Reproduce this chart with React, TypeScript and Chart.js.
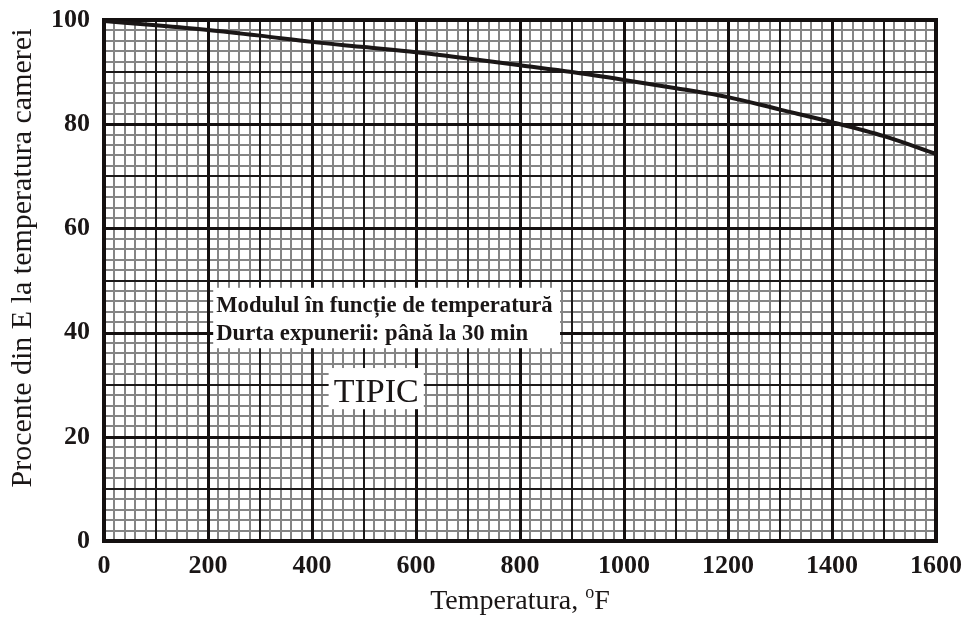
import React, { useEffect, useRef } from "react";
import { Chart, registerables } from "chart.js";

Chart.register(...registerables);

const temperatures = [0, 100, 200, 300, 400, 500, 600, 700, 800, 900, 1000, 1100, 1200, 1300, 1400, 1500, 1600];
const percentE = [99.8, 99.0, 98.1, 97.0, 95.8, 94.8, 93.8, 92.6, 91.3, 90.0, 88.5, 86.9, 85.2, 82.8, 80.4, 77.7, 74.3];

const xTitle = "Temperatura, ";
const xTitleSup = "o";
const xTitleUnit = "F";
const yTitle = "Procente din E la temperatura camerei";
const noteLines = ["Modulul în funcție de temperatură", "Durta expunerii: până la 30 min"];
const tagText = "TIPIC";

const FONT = "'Liberation Serif', 'Times New Roman', serif";

const gridPlugin = {
  id: "paperGrid",
  beforeDatasetsDraw(chart: any) {
    const { ctx, chartArea, scales } = chart;
    const xs = scales.x;
    const ys = scales.y;
    const levels = [
      { w: 2, c: "#858585" },
      { w: 2, c: "#1c1a1a" },
      { w: 3, c: "#141010" },
    ];
    const xLevel = (v: number) => (v % 200 === 0 ? 2 : v % 100 === 0 ? 1 : 0);
    const yLevel = (v: number) => (v % 20 === 0 ? 2 : v % 10 === 0 ? 1 : 0);
    ctx.save();
    for (let lv = 0; lv < 3; lv++) {
      ctx.lineWidth = levels[lv].w;
      ctx.strokeStyle = levels[lv].c;
      ctx.beginPath();
      for (let i = 0; i <= 80; i++) {
        const v = i * 20;
        if (xLevel(v) !== lv) continue;
        let p = Math.round(xs.getPixelForValue(v));
        if (levels[lv].w % 2 === 1) p += 0.5;
        ctx.moveTo(p, chartArea.top);
        ctx.lineTo(p, chartArea.bottom);
      }
      for (let i = 0; i <= 50; i++) {
        const v = i * 2;
        if (yLevel(v) !== lv) continue;
        let p = Math.round(ys.getPixelForValue(v));
        if (levels[lv].w % 2 === 1) p += 0.5;
        ctx.moveTo(chartArea.left, p);
        ctx.lineTo(chartArea.right, p);
      }
      ctx.stroke();
    }
    ctx.lineWidth = 4;
    ctx.strokeStyle = "#141010";
    ctx.strokeRect(chartArea.left, chartArea.top, chartArea.right - chartArea.left, chartArea.bottom - chartArea.top);
    ctx.restore();
  },
  afterDatasetsDraw(chart: any) {
    const { ctx, scales, chartArea } = chart;
    const xs = scales.x;
    const ys = scales.y;
    ctx.save();
    const bx0 = xs.getPixelForValue(210);
    const bx1 = xs.getPixelForValue(877);
    const by0 = ys.getPixelForValue(48.6);
    const by1 = ys.getPixelForValue(37.0);
    ctx.fillStyle = "#ffffff";
    ctx.fillRect(bx0, by0, bx1 - bx0, by1 - by0);
    ctx.fillStyle = "#1a1616";
    ctx.font = `bold 22.7px ${FONT}`;
    ctx.textBaseline = "alphabetic";
    ctx.textAlign = "left";
    ctx.fillText(noteLines[0], bx0 + 3, by0 + 24);
    ctx.fillText(noteLines[1], bx0 + 3, by0 + 52);
    const tx0 = xs.getPixelForValue(432);
    const tx1 = xs.getPixelForValue(615);
    const ty0 = ys.getPixelForValue(33.2);
    const ty1 = ys.getPixelForValue(25.3);
    ctx.fillStyle = "#ffffff";
    ctx.fillRect(tx0, ty0, tx1 - tx0, ty1 - ty0);
    ctx.fillStyle = "#1a1616";
    ctx.font = `34px ${FONT}`;
    ctx.textAlign = "center";
    ctx.fillText(tagText, (tx0 + tx1) / 2, ty0 + 34);

    ctx.textAlign = "left";
    ctx.font = `28px ${FONT}`;
    const w1 = ctx.measureText(xTitle).width;
    const w3 = ctx.measureText(xTitleUnit).width;
    ctx.font = `18px ${FONT}`;
    const w2 = ctx.measureText(xTitleSup).width;
    const total = w1 + w2 + w3;
    const cx = (chartArea.left + chartArea.right) / 2;
    let x = cx - total / 2;
    const base = 609;
    ctx.font = `28px ${FONT}`;
    ctx.fillText(xTitle, x, base);
    x += w1;
    ctx.font = `18px ${FONT}`;
    ctx.fillText(xTitleSup, x, base - 11);
    x += w2;
    ctx.font = `28px ${FONT}`;
    ctx.fillText(xTitleUnit, x, base);

    ctx.save();
    ctx.translate(31, 258);
    ctx.rotate(-Math.PI / 2);
    ctx.textAlign = "center";
    ctx.font = `30px ${FONT}`;
    ctx.fillText(yTitle, 0, 0);
    ctx.restore();
    ctx.restore();
  },
};

export default function App() {
  const ref = useRef<HTMLCanvasElement>(null);
  useEffect(() => {
    document.body.style.margin = "0";
    const canvas = ref.current!;
    const chart = new Chart(canvas, {
      type: "line",
      data: {
        datasets: [
          {
            data: temperatures.map((t, i) => ({ x: t, y: percentE[i] })),
            borderColor: "#1a1616",
            borderWidth: 4,
            pointRadius: 0,
            cubicInterpolationMode: "monotone",
            fill: false,
          },
        ],
      },
      options: {
        responsive: false,
        animation: false,
        layout: { padding: { top: 20, right: 31, left: 0, bottom: 0 } },
        plugins: { legend: { display: false }, tooltip: { enabled: false } },
        scales: {
          x: {
            type: "linear",
            min: 0,
            max: 1600,
            grid: { display: false, drawTicks: false },
            border: { display: false },
            afterFit: (s: any) => {
              s.height = 77;
              s.paddingLeft = 0;
              s.paddingRight = 0;
            },
            ticks: {
              stepSize: 20,
              autoSkip: false,
              maxRotation: 0,
              padding: 10,
              color: "#1a1616",
              font: { family: FONT, size: 26, weight: "bold" },
              callback: (v: any) => (Number(v) % 200 === 0 ? String(v) : ""),
            },
          },
          y: {
            type: "linear",
            min: 0,
            max: 100,
            grid: { display: false, drawTicks: false },
            border: { display: false },
            afterFit: (s: any) => {
              s.width = 104;
              s.paddingTop = 0;
              s.paddingBottom = 0;
            },
            ticks: {
              stepSize: 2,
              autoSkip: false,
              padding: 14,
              color: "#1a1616",
              font: { family: FONT, size: 26, weight: "bold" },
              callback: (v: any) => (Number(v) % 20 === 0 ? String(v) : ""),
            },
          },
        },
      },
      plugins: [gridPlugin],
    } as any);
    return () => chart.destroy();
  }, []);
  return <canvas ref={ref} width={967} height={618} style={{ display: "block" }} />;
}
